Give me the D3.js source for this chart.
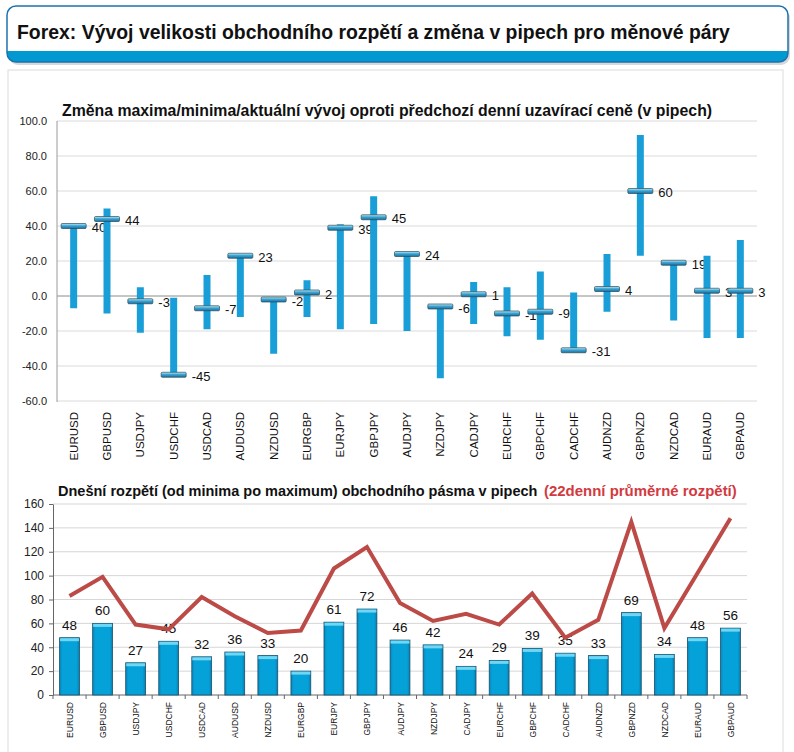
<!DOCTYPE html>
<html><head><meta charset="utf-8">
<script src="https://cdn.jsdelivr.net/npm/d3@7"></script>
<style>body{margin:0;background:#fff}svg{display:block}</style>
</head><body>
<svg id="c" width="794" height="752"></svg>
<script>
const pairs = ["EURUSD","GBPUSD","USDJPY","USDCHF","USDCAD","AUDUSD","NZDUSD","EURGBP","EURJPY","GBPJPY","AUDJPY","NZDJPY","CADJPY","EURCHF","GBPCHF","CADCHF","AUDNZD","GBPNZD","NZDCAD","EURAUD","GBPAUD"];
const highs = [40,50,5,-1,12,23,-1,9,41,57,24,-5,8,5,14,2,24,92,19,23,32];
const lows = [-7,-10,-21,-45,-19,-12,-33,-12,-19,-16,-20,-47,-16,-23,-25,-31,-9,23,-14,-24,-24];
const current = [40,44,-3,-45,-7,23,-2,2,39,45,24,-6,1,-10,-9,-31,4,60,19,3,3];
const todayRange = [48,60,27,45,32,36,33,20,61,72,46,42,24,29,39,35,33,69,34,48,56];
const avg22 = [83,99,59,55,82,66,52,54,106,124,77,62,68,59,85,48,63,145,56,102,148];
const topTicks = [-60,-40,-20,0,20,40,60,80,100];
const botTicks = [0,20,40,60,80,100,120,140,160];

const svg = d3.select("#c");
const defs = svg.append("defs");
const g1 = defs.append("linearGradient").attr("id","cap").attr("x1",0).attr("y1",0).attr("x2",0).attr("y2",1);
g1.append("stop").attr("offset","0%").attr("stop-color","#c8eef4");
g1.append("stop").attr("offset","45%").attr("stop-color","#3aa6d6");
g1.append("stop").attr("offset","100%").attr("stop-color","#1b6f9e");
const g2 = defs.append("linearGradient").attr("id","bar").attr("x1",0).attr("y1",0).attr("x2",1).attr("y2",0);
g2.append("stop").attr("offset","0%").attr("stop-color","#0a86b8");
g2.append("stop").attr("offset","15%").attr("stop-color","#05a2da");
g2.append("stop").attr("offset","85%").attr("stop-color","#05a2da");
g2.append("stop").attr("offset","100%").attr("stop-color","#0a7fae");
defs.append("clipPath").attr("id","hdr").append("rect").attr("x",7).attr("y",6).attr("width",781).attr("height",56).attr("rx",9);

// fit a text horizontally to a width by scaling its group
function fitText(parent, x, y, width, txt, family, size, fill){
  const g = parent.append("g");
  const t = g.append("text").attr("x",0).attr("y",0).attr("font-family",family).attr("font-weight","bold")
    .attr("font-size",size).attr("fill",fill).text(txt);
  const w = t.node().getComputedTextLength() || width;
  g.attr("transform",`translate(${x},${y}) scale(${width/w},1)`);
  return g;
}

// header
svg.append("rect").attr("x",9).attr("y",9).attr("width",781).attr("height",56).attr("rx",9).attr("fill","#d8d8d8");
svg.append("rect").attr("x",7).attr("y",6).attr("width",781).attr("height",56).attr("rx",9).attr("fill","#fff");
svg.append("rect").attr("x",7).attr("y",51).attr("width",781).attr("height",12).attr("fill","#0299d3").attr("clip-path","url(#hdr)");
svg.append("rect").attr("x",7).attr("y",6).attr("width",781).attr("height",56).attr("rx",9).attr("fill","none").attr("stroke","#1d72b0").attr("stroke-width",1.5);
fitText(svg,17,39,713,"Forex: Vývoj velikosti obchodního rozpětí a změna v pipech pro měnové páry",
  "'Liberation Sans Narrow', 'Arial Narrow', Arial, sans-serif",21,"#111");

// panel
svg.append("rect").attr("x",8).attr("y",70).attr("width",775).attr("height",700).attr("fill","#fff").attr("stroke","#dcdcdc");

const FONT = "'Liberation Sans', Arial, sans-serif";
const NAR = "'Liberation Sans Narrow', 'Arial Narrow', Arial, sans-serif";

// ---------- top chart ----------
const x1 = d3.scaleBand().domain(pairs).range([57,757]);
const y1 = d3.scaleLinear().domain([-60,100]).range([401,121]);
const topG = svg.append("g");
fitText(topG,62,116,651,"Změna maxima/minima/aktuální vývoj oproti předchozí denní uzavírací ceně (v pipech)",FONT,16.5,"#111");
topG.selectAll(".gl").data(topTicks).join("line").attr("x1",57).attr("x2",757)
  .attr("y1",d=>y1(d)).attr("y2",d=>y1(d)).attr("stroke",d=>d===0?"#8c8c8c":"#dadada").attr("stroke-width",1);
topG.append("line").attr("x1",57).attr("x2",57).attr("y1",121).attr("y2",402).attr("stroke","#9a9a9a");
topG.selectAll(".yl").data(topTicks).join("text").attr("x",47).attr("y",d=>y1(d)+4).attr("text-anchor","end")
  .attr("font-family",FONT).attr("font-size",11).attr("fill","#222").text(d=>d.toFixed(1));
pairs.forEach((p,i)=>{
  const cx = x1(p)+x1.bandwidth()/2;
  topG.append("rect").attr("x",cx-3.5).attr("width",7).attr("y",y1(highs[i])).attr("height",y1(lows[i])-y1(highs[i])).attr("fill","#1a9ed8");
  topG.append("rect").attr("x",cx-12.5).attr("width",25).attr("y",y1(current[i])-2.5).attr("height",5).attr("rx",1)
    .attr("fill","url(#cap)").attr("stroke","#2a4a5a").attr("stroke-width",0.7);
  topG.append("text").attr("x",cx+18).attr("y",y1(current[i])+6).attr("font-family",NAR).attr("font-size",13).attr("fill","#111").text(current[i]);
  topG.append("text").attr("transform",`translate(${cx+4},412) rotate(-90)`).attr("text-anchor","end")
    .attr("font-family",NAR).attr("font-size",11.5).attr("fill","#111").text(p);
});

// ---------- bottom chart ----------
const x2 = d3.scaleBand().domain(pairs).range([53,747]).paddingInner(0.4).paddingOuter(0.2);
const xb = d3.scaleBand().domain(pairs).range([53,747]);
const y2 = d3.scaleLinear().domain([0,160]).range([695,504]);
const bot = svg.append("g");
fitText(bot,58,496,480,"Dnešní rozpětí (od minima po maximum) obchodního pásma v pipech",FONT,15.5,"#111");
fitText(bot,544,496,193,"(22denní průměrné rozpětí)",FONT,15.5,"#d23a3f");
bot.selectAll(".gl").data(botTicks.slice(1)).join("line").attr("x1",53).attr("x2",747)
  .attr("y1",d=>y2(d)).attr("y2",d=>y2(d)).attr("stroke","#d6d6d6");
bot.append("g").attr("transform","translate(53,0)").call(d3.axisLeft(y2).tickValues(botTicks).tickSize(4).tickSizeOuter(0))
  .call(g=>{g.select(".domain").attr("stroke","#666");g.selectAll(".tick line").attr("stroke","#666");
    g.selectAll("text").attr("font-family",FONT).attr("font-size",12).attr("fill","#222").attr("x",-9);});
bot.append("line").attr("x1",53).attr("x2",747).attr("y1",695).attr("y2",695).attr("stroke","#666");
bot.selectAll(".xt").data(pairs.concat(["_end"])).join("line")
  .attr("x1",(d,i)=>53+i*xb.step()).attr("x2",(d,i)=>53+i*xb.step()).attr("y1",695).attr("y2",699).attr("stroke","#666");
bot.selectAll(".b").data(pairs).join("rect").attr("x",d=>x2(d)).attr("width",x2.bandwidth())
  .attr("y",(d,i)=>y2(todayRange[i])).attr("height",(d,i)=>695-y2(todayRange[i]))
  .attr("fill","url(#bar)").attr("stroke","#16506c").attr("stroke-width",0.8);
bot.selectAll(".bt").data(pairs).join("rect").attr("x",d=>x2(d)+0.5).attr("width",x2.bandwidth()-1)
  .attr("y",(d,i)=>y2(todayRange[i])+0.5).attr("height",3).attr("fill","#6fd6f4");
bot.selectAll(".vl").data(pairs).join("text").attr("x",d=>xb(d)+xb.bandwidth()/2).attr("y",(d,i)=>y2(todayRange[i])-8)
  .attr("text-anchor","middle").attr("font-family",NAR).attr("font-size",13.5).attr("fill","#111").text((d,i)=>todayRange[i]);
const line = d3.line().x((d,i)=>xb(pairs[i])+xb.bandwidth()/2).y(d=>y2(d));
bot.append("path").datum(avg22).attr("d",line).attr("fill","none").attr("stroke","#bc4b48").attr("stroke-width",4).attr("stroke-linejoin","miter");
bot.selectAll(".xl").data(pairs).join("text")
  .attr("transform",d=>`translate(${xb(d)+xb.bandwidth()/2+3.5},702) rotate(-90)`).attr("text-anchor","end")
  .attr("font-family",FONT).attr("font-size",8.5).attr("fill","#111").text(d=>d);
</script>
</body></html>
